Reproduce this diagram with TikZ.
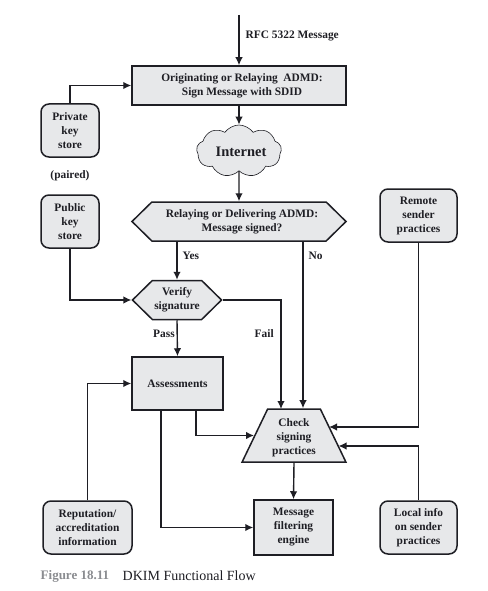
\documentclass[tikz,border=0pt]{standalone}
\usepackage{fontspec}
\setmainfont{Liberation Serif}
\usetikzlibrary{shapes.geometric,shapes.symbols,arrows.meta}
\definecolor{boxgray}{HTML}{E7E8EA}
\definecolor{inkdark}{HTML}{1E1E24}
\definecolor{capgray}{HTML}{8A8C90}
\newcommand{\nudge}{\hspace*{6pt}}
\begin{document}
\begin{tikzpicture}[x=1pt,y=-1pt,line width=1.4pt,draw=inkdark]
    \tikzstyle{lbl}=[font=\fontsize{11.4}{14}\selectfont\bfseries,text=inkdark,align=center,inner sep=0pt]
    \tikzstyle{box}=[lbl,rectangle,draw=inkdark,fill=boxgray,line width=1.5pt]
    \tikzstyle{store}=[box,rounded corners=8pt]
    \tikzstyle{hex}=[box,signal,signal to=east and west,signal pointer angle=89]
    \tikzstyle{flow}=[-{Latex[length=8pt,width=7.5pt]},line width=1.4pt,draw=inkdark]
    \useasboundingbox (0,0) rectangle (487,591);
    \node[coordinate] (top) at (239,15) {};
    \node[box,minimum width=214pt,minimum height=39pt] (sign) at (239,85.5) {\nudge Originating or Relaying\ \ ADMD:\\\nudge Sign Message with SDID};
    \node[store,minimum width=58pt,minimum height=53pt] (priv) at (70,130.5) {Private\\key\\store};
    \node[store,minimum width=58pt,minimum height=53pt] (pub) at (70,221.5) {Public\\key\\store};
    \node[lbl] (paired) at (70,175.5) {(paired)};
    \node[cloud,cloud puffs=9,cloud puff arc=110,aspect=1.75,draw=inkdark,fill=boxgray,line width=0.6pt,minimum width=85pt,minimum height=52pt,inner sep=0pt] (inet) at (239,151) {};
    \node[lbl,font=\fontsize{14.5}{16}\selectfont\bfseries] (inetlabel) at (241,152) {Internet};
    \node[hex,minimum width=214pt,minimum height=39pt] (relay) at (239,221.5) {\nudge Relaying or Delivering ADMD:\\\nudge Message signed?};
    \node[store,minimum width=77pt,minimum height=53pt] (remote) at (418.5,215.5) {Remote\\sender\\practices};
    \node[hex,minimum width=89pt,minimum height=39pt] (verify) at (177,300) {Verify\\signature};
    \node[box,minimum width=91pt,minimum height=53pt] (assess) at (177.5,383.5) {Assessments};
    \node[trapezium,trapezium stretches=true,lbl,draw=inkdark,fill=boxgray,line width=1.5pt,minimum width=104pt,minimum height=53pt,trapezium left angle=64,trapezium right angle=64] (check) at (294,435.5) {\rule{0pt}{13pt}Check\\signing\\practices};
    \node[box,minimum width=79pt,minimum height=55pt] (filter) at (293.5,527.5) {Message\\filtering\\engine};
    \node[store,minimum width=89pt,minimum height=53pt] (rep) at (87.5,527.5) {Reputation/\\accreditation\\information};
    \node[store,minimum width=77pt,minimum height=53pt] (local) at (418.5,527.5) {Local info\\on sender\\practices};
    % free ends on the slanted sides and bottoms of boxes
    \node[coordinate] (nofrom) at (303,241) {};
    \node[coordinate] (failto) at (281,409) {};
    \node[coordinate] (remoteto) at (329,427) {};
    \node[coordinate] (localto) at (338.5,446) {};
    \node[coordinate] (assessa) at (196,410) {};
    \node[coordinate] (assessb) at (161,410) {};
    \draw[flow] (top) -- (sign);
    \draw[flow] (sign) -- (inet.north);
    \draw[flow] (inet.south) -- (relay.north);
    \draw[flow] (priv.north) |- (sign.west);
    \draw[flow] (pub.south) |- (verify.west);
    \draw[flow] (relay.south -| verify) -- (verify.north);
    \draw[flow] (verify.south) -- (assess.north);
    \draw[flow] (nofrom) -- (nofrom |- check.north);
    \draw[flow] (verify.east) -| (failto);
    \draw[flow] (rep.north) |- (assess.west);
    \draw[flow] (assessa) |- (check.left side);
    \draw[flow] (assessb) |- (filter.west);
    \draw[flow] (remote.south) |- (remoteto);
    \draw[flow] (local.north) |- (localto);
    \draw[flow] (check.south) -- (filter.north);
    \node[lbl,anchor=west] (rfc) at (245,36) {RFC 5322 Message};
    \node[lbl,anchor=west] (yes) at (182,256) {Yes};
    \node[lbl,anchor=west] (no) at (308,256) {No};
    \node[lbl,anchor=west] (pass) at (152.5,334) {Pass};
    \node[lbl,anchor=west] (fail) at (254,334) {Fail};
    \node[anchor=west,inner sep=0pt,font=\fontsize{13}{14}\selectfont\bfseries,text=capgray] (figno) at (40,576) {Figure 18.11};
    \node[anchor=west,inner sep=0pt,font=\fontsize{14}{16}\selectfont,text=inkdark] (caption) at (122,576) {DKIM Functional Flow};
\end{tikzpicture}
\end{document}
